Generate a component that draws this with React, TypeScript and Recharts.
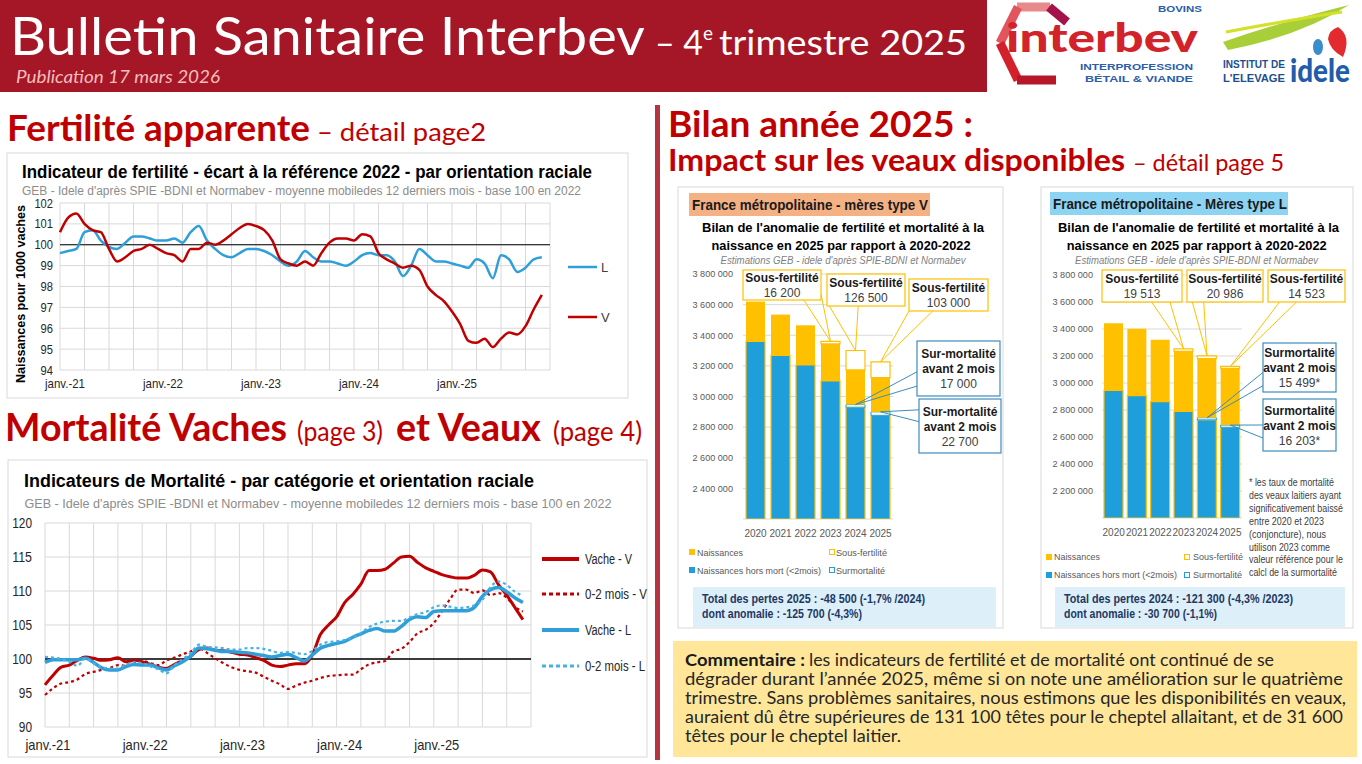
import React from 'react';
import {
  LineChart, Line, BarChart, Bar, XAxis, YAxis, CartesianGrid,
  ReferenceLine, ReferenceArea, ReferenceDot,
} from 'recharts';

// Fertility indicator, monthly from janv. 2021 (base 100 in 2022)
const FERT_L = [
  99.6, 99.7, 99.8, 100.6, 100.7, 100.2, 99.9, 99.8, 100.1, 100.4,
  100.4, 100.3, 100.2, 100.2, 100.3, 100.1, 100.6, 100.9, 100.2, 99.8,
  99.5, 99.4, 99.6, 99.8, 99.8, 99.7, 99.5, 99.2, 99.0, 99.2,
  99.7, 99.4, 99.2, 99.2, 99.1, 99.0, 99.2, 99.5, 99.6, 99.5,
  99.5, 99.2, 98.5, 99.0, 99.8, 99.5, 99.2, 99.2, 99.1, 99.0,
  98.9, 99.3, 99.1, 98.4, 99.5, 99.3, 98.7, 98.9, 99.3, 99.4,
];
const FERT_V = [
  100.6, 101.3, 101.5, 101.0, 100.7, 100.6, 99.8, 99.2, 99.4, 99.7,
  99.8, 100.0, 99.8, 99.6, 99.5, 99.2, 99.8, 99.8, 100.1, 100.0,
  100.2, 100.5, 100.8, 101.0, 100.9, 100.7, 100.2, 99.3, 99.1, 99.0,
  99.2, 99.0, 99.6, 100.1, 100.3, 100.3, 100.2, 100.5, 100.4, 99.6,
  99.3, 99.1, 98.9, 99.0, 98.8, 98.0, 97.6, 97.3, 96.8, 96.2,
  95.4, 95.3, 95.5, 95.1, 95.5, 95.8, 95.7, 96.1, 96.9, 97.6,
];

// Mortality indicators, monthly from janv. 2021
const MORT_VACHE_V = [
  96.2, 97.6, 98.8, 99.1, 99.8, 100.3, 100.1, 99.8, 99.9, 100.2,
  99.6, 99.8, 99.6, 99.2, 98.8, 98.6, 99.2, 99.8, 100.4, 101.4,
  101.6, 101.3, 101.2, 101.0, 100.7, 100.6, 100.2, 99.8, 99.1, 98.9,
  99.1, 99.3, 99.3, 100.6, 103.6, 105.0, 106.2, 108.3, 109.5, 111.0,
  113.0, 113.0, 113.2, 114.1, 115.0, 115.1, 114.2, 113.4, 112.9, 112.4,
  112.1, 111.9, 111.9, 112.3, 113.1, 112.8, 110.9, 109.4, 107.6, 105.8,
];
const MORT_VEAU_V = [
  94.7, 95.7, 96.4, 96.6, 97.0, 97.8, 98.1, 98.4, 98.7, 99.1,
  99.0, 99.3, 99.7, 99.4, 99.1, 99.8, 100.2, 100.7, 101.1, 101.6,
  100.9, 100.1, 99.4, 98.8, 98.4, 98.2, 98.0, 97.4, 96.8, 96.3,
  95.6, 96.1, 96.5, 96.8, 97.2, 97.5, 97.6, 97.7, 97.7, 98.5,
  99.2, 99.5, 99.7, 101.1, 101.5, 102.5, 103.8, 104.3, 105.3, 107.0,
  108.8, 110.2, 110.2, 109.7, 110.1, 109.4, 109.7, 109.0, 107.7, 107.0,
];
const MORT_VACHE_L = [
  99.5, 99.9, 99.9, 99.9, 99.9, 100.1, 99.5, 98.7, 98.4, 98.4,
  98.9, 99.2, 99.1, 99.1, 98.7, 98.4, 99.0, 99.6, 100.4, 101.6,
  101.5, 101.3, 101.1, 101.1, 101.0, 100.9, 100.7, 100.5, 100.3, 100.5,
  100.7, 100.2, 99.7, 100.6, 101.6, 102.0, 102.3, 102.6, 103.2, 103.7,
  104.2, 104.5, 104.1, 104.1, 104.8, 105.8, 106.2, 106.1, 107.0, 107.1,
  107.1, 107.1, 107.1, 107.6, 109.2, 110.2, 110.5, 109.9, 109.0, 108.3,
];
const MORT_VEAU_L = [
  100.3, 100.2, 100.0, 99.6, 99.0, 100.1, 99.4, 98.8, 98.6, 98.6,
  99.2, 99.5, 99.4, 98.9, 98.5, 97.9, 99.1, 100.0, 100.9, 102.1,
  101.8, 101.7, 101.6, 101.4, 101.4, 101.6, 101.6, 101.5, 101.2, 100.9,
  101.0, 100.9, 100.7, 101.2, 102.1, 102.5, 102.6, 102.8, 103.2, 103.8,
  104.7, 105.2, 105.5, 105.6, 105.6, 106.1, 106.6, 106.9, 107.6, 107.9,
  107.7, 107.5, 107.6, 107.9, 108.7, 110.6, 111.4, 110.9, 109.9, 109.3,
];

const MONTHS = FERT_L.map((_, i) => i);
const QUARTER_TICKS = [0, 3, 6, 9, 12, 15, 18, 21, 24, 27, 30, 33, 36, 39, 42, 45, 48, 51, 54, 57, 60];
const YEAR_TICKS = [0, 12, 24, 36, 48];
const YEAR_LABELS = ['janv.-21', 'janv.-22', 'janv.-23', 'janv.-24', 'janv.-25'];
const FERT_Y_TICKS = [94, 95, 96, 97, 98, 99, 100, 101, 102];
const MORT_Y_TICKS = [90, 95, 100, 105, 110, 115, 120];

// Birth balance by year
const YEARS = ['2020', '2021', '2022', '2023', '2024', '2025'];
const V_NAISSANCES = [3620000, 3535000, 3465000, 3344000, 3174000, 3123000];
const V_HORS_MORT = [3360000, 3268000, 3207000, 3102000, 2930000, 2877000];
const V_SURMORT = [0, 0, 0, 0, 17000, 22700];
const V_SOUS_FERT = [0, 0, 0, 16200, 126500, 103000];
const V_Y_TICKS = [2400000, 2600000, 2800000, 3000000, 3200000, 3400000, 3600000, 3800000];

const L_NAISSANCES = [3443000, 3401000, 3320000, 3234000, 3180000, 3108000];
const L_HORS_MORT = [2946000, 2906000, 2862000, 2790000, 2727000, 2672000];
const L_SURMORT = [0, 0, 0, 0, 15499, 16203];
const L_SOUS_FERT = [0, 0, 0, 19513, 20986, 14523];
const L_Y_TICKS = [2200000, 2400000, 2600000, 2800000, 3000000, 3200000, 3400000, 3600000, 3800000];

const FONT = "'Liberation Sans', Arial, sans-serif";
const CAL = "Lato, 'Open Sans', sans-serif";
const RED = '#C00000';
const BLUE = '#2E9FD8';
const BLUE_DOT = '#45B1E6';
const YELLOW = '#FFC000';
const BAR_BLUE = '#1E9FDB';
const CALLOUT_BLUE = '#3C8DBC';
const BANNER = '#A51727';
const HEAD_RED = '#C00000';

const fmtNum = (v: number) => String(Math.round(v)).replace(/\B(?=(\d{3})+(?!\d))/g, ' ');

type TP = {
  x: number; y: number; size: number; len?: number; color?: string; weight?: number;
  italic?: boolean; anchor?: 'start' | 'middle' | 'end'; font?: string; children: React.ReactNode;
};
function T({ x, y, size, len, color = '#000', weight = 400, italic = false, anchor = 'start', font = FONT, children }: TP) {
  return (
    <text x={x} y={y} fontSize={size} fontFamily={font} fontWeight={weight}
      fontStyle={italic ? 'italic' : 'normal'} fill={color} textAnchor={anchor}
      textLength={len} lengthAdjust={len ? 'spacingAndGlyphs' : undefined}>
      {children}
    </text>
  );
}

function monthTick(size: number, width: number, dy: number, dx: number) {
  return (p: any) => {
    const i = YEAR_TICKS.indexOf(p.payload.value);
    if (i < 0) return <g />;
    return (
      <text x={p.x + dx} y={p.y + dy} textAnchor="middle" fontSize={size} fontFamily={FONT}
        fill="#262626" textLength={width} lengthAdjust="spacingAndGlyphs">{YEAR_LABELS[i]}</text>
    );
  };
}

function valueTick(size: number, charW: number, dx: number, color: string, fmt: (v: number) => string = String) {
  return (p: any) => {
    const s = fmt(p.payload.value);
    return (
      <text x={p.x + dx} y={p.y} dy="0.35em" textAnchor="end" fontSize={size} fontFamily={FONT}
        fill={color} textLength={s.length * charW} lengthAdjust="spacingAndGlyphs">{s}</text>
    );
  };
}

function FertilityChart() {
  const rows = MONTHS.map((m, i) => ({ m, L: FERT_L[i], V: FERT_V[i] }));
  return (
    <LineChart width={621} height={245} data={rows} margin={{ top: 50, right: 78, bottom: 6, left: 0 }}>
      <CartesianGrid stroke="#D9D9D9" />
      <XAxis type="number" dataKey="m" domain={[0, 60]} ticks={QUARTER_TICKS} interval={0}
        axisLine={false} tickLine={false} height={22} tick={monthTick(13, 40, 10, 5)} />
      <YAxis type="number" domain={[94, 102]} ticks={FERT_Y_TICKS} interval={0} width={53}
        axisLine={false} tickLine={false} tick={valueTick(13, 6.2, 1, '#262626')} />
      <ReferenceLine y={100} stroke="#000" strokeWidth={1.2} />
      <Line type="monotone" dataKey="L" stroke={BLUE} strokeWidth={2.5} dot={false} isAnimationActive={false} />
      <Line type="monotone" dataKey="V" stroke={RED} strokeWidth={2.5} dot={false} isAnimationActive={false} />
    </LineChart>
  );
}

function MortalityChart() {
  const rows = MONTHS.map((m, i) => ({
    m, vv: MORT_VACHE_V[i], cv: MORT_VEAU_V[i], vl: MORT_VACHE_L[i], cl: MORT_VEAU_L[i],
  }));
  return (
    <LineChart width={639} height={297} data={rows} margin={{ top: 63, right: 116, bottom: 8, left: 0 }}>
      <CartesianGrid stroke="#D9D9D9" />
      <XAxis type="number" dataKey="m" domain={[0, 60]} ticks={QUARTER_TICKS} interval={0}
        axisLine={false} tickLine={false} height={22} tick={monthTick(15, 45, 15, 3)} />
      <YAxis type="number" domain={[90, 120]} ticks={MORT_Y_TICKS} interval={0} width={37}
        axisLine={false} tickLine={false} tick={valueTick(15, 6.6, -5, '#262626')} />
      <ReferenceLine y={100} stroke="#000" strokeWidth={1.5} />
      <Line type="monotone" dataKey="vv" stroke={RED} strokeWidth={3} dot={false} isAnimationActive={false} />
      <Line type="monotone" dataKey="cv" stroke={RED} strokeWidth={2.2} strokeDasharray="3 3" dot={false} isAnimationActive={false} />
      <Line type="monotone" dataKey="vl" stroke={BLUE} strokeWidth={3.5} dot={false} isAnimationActive={false} />
      <Line type="monotone" dataKey="cl" stroke={BLUE_DOT} strokeWidth={2.2} strokeDasharray="3 3" dot={false} isAnimationActive={false} />
    </LineChart>
  );
}

type Row = { year: string; naissances: number; horsMort: number; surmort: number; reste: number; sousFert: number };
type Callout = {
  index: number; kind: 'sf' | 'sm'; x: number; y: number; w: number; h: number;
  title: string[]; suffix?: string; anchors: number[][];
};

// callout boxes (chart coordinates)
const V_CALLOUTS: Callout[] = [
  { index: 3, kind: 'sf', x: 65, y: 83, w: 78, h: 30, title: ['Sous-fertilité'], anchors: [[0.78, 1], [1, 0.8]] },
  { index: 4, kind: 'sf', x: 149, y: 87, w: 78, h: 32, title: ['Sous-fertilité'], anchors: [[0.03, 1], [0.4, 1]] },
  { index: 5, kind: 'sf', x: 231, y: 92, w: 79, h: 32, title: ['Sous-fertilité'], anchors: [[0, 1], [0.3, 1]] },
  { index: 4, kind: 'sm', x: 239, y: 154, w: 83, h: 55, title: ['Sur-mortalité', 'avant 2 mois'], anchors: [[0, 0.56], [0, 0.82]] },
  { index: 5, kind: 'sm', x: 241, y: 212, w: 82, h: 54, title: ['Sur-mortalité', 'avant 2 mois'], anchors: [[0, 0.2], [0, 0.42]] },
];
const L_CALLOUTS: Callout[] = [
  { index: 3, kind: 'sf', x: 61, y: 83, w: 80, h: 32, title: ['Sous-fertilité'], anchors: [[0.62, 1], [0.85, 1]] },
  { index: 4, kind: 'sf', x: 146, y: 83, w: 76, h: 32, title: ['Sous-fertilité'], anchors: [[0.07, 1], [0.22, 1]] },
  { index: 5, kind: 'sf', x: 227, y: 83, w: 77, h: 32, title: ['Sous-fertilité'], anchors: [[0.15, 1], [0.37, 1]] },
  { index: 4, kind: 'sm', x: 222, y: 156, w: 73, h: 49, title: ['Surmortalité', 'avant 2 mois'], suffix: '*', anchors: [[0, 0.6], [0, 0.87]] },
  { index: 5, kind: 'sm', x: 222, y: 212, w: 73, h: 52, title: ['Surmortalité', 'avant 2 mois'], suffix: '*', anchors: [[0, 0.5], [0, 0.75]] },
];

function WaveBand(p: any) {
  const { x, y, width, height } = p;
  const thick = 10;
  const amp = (height - thick) / 2;
  const mid = y + height / 2;
  const period = width * 0.85;
  const crest = x + width * 0.77;
  const x0 = x - 3;
  const x1 = x + width + 3;
  const top: string[] = [];
  const bot: string[] = [];
  for (let i = 0; i <= 48; i++) {
    const xx = x0 + ((x1 - x0) * i) / 48;
    const c = mid + amp * Math.cos((2 * Math.PI * (xx - crest)) / period);
    top.push(`${xx.toFixed(1)},${(c - thick / 2).toFixed(1)}`);
    bot.unshift(`${xx.toFixed(1)},${(c + thick / 2).toFixed(1)}`);
  }
  return <path d={`M${top.join('L')}L${bot.join('L')}Z`} fill="#fff" />;
}

function CalloutShape({ c, cx, cy, value }: { c: Callout; cx: number; cy: number; value: number }) {
  const color = c.kind === 'sf' ? YELLOW : CALLOUT_BLUE;
  const lines = [...c.title, fmtNum(value) + (c.suffix || '')];
  const gap = 15;
  const first = c.y + (c.h - (lines.length - 1) * gap) / 2 + 4.5;
  return (
    <g>
      {c.anchors.map((a, j) => (
        <line key={j} x1={c.x + a[0] * c.w} y1={c.y + a[1] * c.h} x2={cx} y2={cy} stroke={color} strokeWidth={1} />
      ))}
      <rect x={c.x} y={c.y} width={c.w} height={c.h} fill="#fff" stroke={color} strokeWidth={1.2} />
      {lines.map((s, j) => (
        <text key={j} x={c.x + c.w / 2} y={first + j * gap} textAnchor="middle" fontFamily={FONT}
          fontSize={12} fontWeight={j < lines.length - 1 ? 700 : 400}
          fill={j < lines.length - 1 ? '#1a1a1a' : '#404040'}>{s}</text>
      ))}
    </g>
  );
}

type BCProps = {
  naissances: number[]; horsMort: number[]; surmort: number[]; sousFert: number[];
  yMin: number; yTicks: number[]; band: [number, number]; callouts: Callout[];
  width: number; margin: { top: number; right: number; bottom: number; left: number };
  yWidth: number; tickDx: number;
};
function BirthChart(p: BCProps) {
  const rows: Row[] = YEARS.map((year, i) => ({
    year,
    naissances: p.naissances[i],
    horsMort: p.horsMort[i],
    surmort: p.surmort[i],
    reste: p.naissances[i] - p.horsMort[i] - p.surmort[i],
    sousFert: p.sousFert[i],
  }));
  return (
    <BarChart width={p.width} height={441} data={rows} margin={p.margin} barSize={19}>
      <CartesianGrid vertical={false} stroke="#D9D9D9" />
      <XAxis dataKey="year" axisLine={false} tickLine={false} height={20} interval={0}
        tick={(t: any) => (
          <text x={t.x} y={t.y + 9.5} textAnchor="middle" fontSize={10} fontFamily={FONT} fill="#595959">{t.payload.value}</text>
        )} />
      <YAxis type="number" domain={[p.yMin, 3800000]} ticks={p.yTicks} interval={0} allowDataOverflow
        width={p.yWidth} axisLine={false} tickLine={false} tick={valueTick(9.5, 4.5, p.tickDx, '#595959', fmtNum)} />
      <Bar dataKey="horsMort" stackId="s" fill={BAR_BLUE} stroke={YELLOW} strokeWidth={1.2} isAnimationActive={false} />
      <Bar dataKey="surmort" stackId="s" fill="#fff" stroke={BAR_BLUE} strokeWidth={1} isAnimationActive={false} />
      <Bar dataKey="reste" stackId="s" fill={YELLOW} isAnimationActive={false} />
      <Bar dataKey="sousFert" stackId="s" fill="#fff" stroke={YELLOW} strokeWidth={1.2} isAnimationActive={false} />
      <ReferenceArea y1={p.band[0]} y2={p.band[1]} shape={WaveBand} ifOverflow="visible" />
      {p.callouts.map((c, k) => {
        const row = rows[c.index];
        const target = c.kind === 'sf' ? row.naissances + row.sousFert : row.horsMort + row.surmort;
        const value = c.kind === 'sf' ? row.sousFert : row.surmort;
        return (
          <ReferenceDot key={k} x={row.year} y={target} r={2} ifOverflow="visible"
            shape={(d: any) => <CalloutShape c={c} cx={d.cx} cy={d.cy} value={value} />} />
        );
      })}
    </BarChart>
  );
}

const COMMENT = [
  'dégrader durant l’année 2025, même si on note une amélioration sur le quatrième',
  'trimestre. Sans problèmes sanitaires, nous estimons que les disponibilités en veaux,',
  'auraient dû être supérieures de 131 100 têtes pour le cheptel allaitant, et de 31 600',
  'têtes pour le cheptel laitier.',
];
const COMMENT_LEN = [658, 661, 658, 216];

const FOOTNOTE = [
  '* les taux de mortalité', 'des veaux laitiers ayant', 'significativement baissé', 'entre 2020 et 2023',
  '(conjoncture), nous', 'utilison 2023 comme', 'valeur référence pour le', 'calcl de la surmortalité',
];
const FOOTNOTE_LEN = [85, 92, 94, 75, 77, 81, 94, 88];

export default function App() {
  return (
    <div style={{ position: 'absolute', left: 0, top: 0, width: 1362, height: 764, background: '#fff', overflow: 'hidden' }}>
      <svg width={1362} height={764} style={{ position: 'absolute', left: 0, top: 0 }}>
        <rect x={0} y={0} width={987} height={92} fill={BANNER} />
        <rect x={655} y={105} width={5} height={655} fill="#B4343F" />
        <rect x={673} y={641} width={684} height={116} fill="#FFE699" />
        <rect x={693} y={587} width={303} height={40} fill="#DDEFF9" />
        <rect x={1055} y={587} width={290} height={40} fill="#DDEFF9" />
        <rect x={689} y={193} width={241} height={23} fill="#F4B183" />
        <rect x={1050} y={192} width={238} height={23} fill="#8DD3F2" />
      </svg>

      <div style={{ position: 'absolute', left: 7, top: 153 }}><FertilityChart /></div>
      <div style={{ position: 'absolute', left: 8, top: 460 }}><MortalityChart /></div>
      <div style={{ position: 'absolute', left: 678, top: 187 }}>
        <BirthChart naissances={V_NAISSANCES} horsMort={V_HORS_MORT} surmort={V_SURMORT} sousFert={V_SOUS_FERT}
          yMin={2200000} yTicks={V_Y_TICKS} band={[2260000, 2410000]} callouts={V_CALLOUTS}
          width={325} margin={{ top: 87, right: 110, bottom: 89, left: 5 }} yWidth={60} tickDx={-2} />
      </div>
      <div style={{ position: 'absolute', left: 1041, top: 187 }}>
        <BirthChart naissances={L_NAISSANCES} horsMort={L_HORS_MORT} surmort={L_SURMORT} sousFert={L_SOUS_FERT}
          yMin={2000000} yTicks={L_Y_TICKS} band={[2055000, 2235000]} callouts={L_CALLOUTS}
          width={312} margin={{ top: 88, right: 111, bottom: 90, left: 3 }} yWidth={58} tickDx={-1} />
      </div>

      <svg width={1362} height={764} style={{ position: 'absolute', left: 0, top: 0, pointerEvents: 'none' }}>
        {/* header */}
        <T x={10} y={55} size={52} len={635} color="#fff" font={CAL}>Bulletin Sanitaire Interbev</T>
        <T x={655} y={55} size={34} len={48} color="#fff" font={CAL}>– 4</T>
        <T x={703} y={40} size={20} len={10} color="#fff" font={CAL}>e</T>
        <T x={719} y={55} size={34} len={248} color="#fff" font={CAL}>trimestre 2025</T>
        <T x={16} y={83} size={17} len={204} color="#F6BDBD" italic font={CAL}>Publication 17 mars 2026</T>

        {/* interbev logo */}
        <line x1={1050} y1={7} x2={1017} y2={7} stroke="#E8898B" strokeWidth={9} />
        <line x1={1018} y1={7} x2={1000} y2={43} stroke="#E2555C" strokeWidth={9} />
        <line x1={1000} y1={43} x2={1018} y2={80} stroke="#D3202B" strokeWidth={9} />
        <line x1={1017} y1={80} x2={1056} y2={80} stroke="#B8172A" strokeWidth={9} />
        <line x1={1049} y1={7} x2={1067} y2={22} stroke="#A3124B" strokeWidth={9} />
        <T x={1006} y={52} size={40} len={192} color="#D2232A" weight={900} font={CAL}>interbev</T>
        <T x={1158} y={12} size={8.5} len={44} color="#2B5DA8" weight={700}>BOVINS</T>
        <T x={1080} y={70} size={9.5} len={113} color="#2B5DA8" weight={700}>INTERPROFESSION</T>
        <T x={1085} y={82} size={9.5} len={108} color="#2B5DA8" weight={700}>BÉTAIL &amp; VIANDE</T>

        {/* idele logo */}
        <path d="M1223,42 Q1280,22 1349,5 Q1300,36 1228,50 Z" fill="#A8CF38" />
        <path d="M1226,32 Q1290,20 1342,12" stroke="#D4E02C" strokeWidth={3} fill="none" />
        <path d="M1338,27 Q1352,36 1343,57 Q1330,50 1328,39 Q1329,30 1338,27 Z" fill="#E32A2F" />
        <ellipse cx={1318} cy={47} rx={5} ry={8} fill="#3A8DCB" />
        <T x={1223} y={68} size={10.5} len={62} color="#1E4E8C" weight={700}>INSTITUT DE</T>
        <T x={1223} y={82} size={10.5} len={62} color="#1E4E8C" weight={700}>L'ELEVAGE</T>
        <T x={1290} y={82} size={32} len={60} color="#1F5CA9" weight={900} font={CAL}>idele</T>

        {/* section headings */}
        <T x={7} y={141} size={37} len={303} color={HEAD_RED} weight={700} font={CAL}>Fertilité apparente</T>
        <T x={317} y={141} size={25} len={169} color={HEAD_RED} font={CAL}>– détail page2</T>
        <T x={5} y={441} size={38} len={282} color={HEAD_RED} weight={700} font={CAL}>Mortalité Vaches</T>
        <T x={297} y={441} size={26} len={86} color={HEAD_RED} font={CAL}>(page 3)</T>
        <T x={396} y={441} size={38} len={145} color={HEAD_RED} weight={700} font={CAL}>et Veaux</T>
        <T x={553} y={441} size={26} len={89} color={HEAD_RED} font={CAL}>(page 4)</T>
        <T x={668} y={137} size={37} len={305} color={HEAD_RED} weight={700} font={CAL}>Bilan année 2025 :</T>
        <T x={668} y={171} size={30} len={457} color={HEAD_RED} weight={700} font={CAL}>Impact sur les veaux disponibles</T>
        <T x={1133} y={171} size={24} len={151} color={HEAD_RED} font={CAL}>– détail page 5</T>

        {/* fertility frame */}
        <rect x={7} y={153} width={621} height={245} fill="none" stroke="#D9D9D9" />
        <T x={22} y={178} size={18} len={570} weight={700}>Indicateur de fertilité - écart à la référence 2022 - par orientation raciale</T>
        <T x={22} y={195} size={12.5} len={559} color="#8C8C8C">GEB - Idele d'après SPIE -BDNI et Normabev  - moyenne mobiledes 12 derniers mois  - base 100 en 2022</T>
        <g transform="translate(25,294) rotate(-90)">
          <T x={0} y={0} size={13} len={178} weight={700} anchor="middle">Naissances pour 1000 vaches</T>
        </g>
        <line x1={568} y1={267} x2={597} y2={267} stroke={BLUE} strokeWidth={2.5} />
        <T x={601} y={271.5} size={13} color="#404040">L</T>
        <line x1={568} y1={317} x2={597} y2={317} stroke={RED} strokeWidth={2.5} />
        <T x={601} y={321.5} size={13} color="#404040">V</T>

        {/* mortality frame */}
        <rect x={8} y={460} width={639} height={297} fill="none" stroke="#D9D9D9" />
        <T x={24} y={487} size={18} len={510} weight={700}>Indicateurs de Mortalité - par catégorie et orientation raciale</T>
        <T x={24.5} y={508} size={13.5} len={587} color="#8C8C8C">GEB - Idele d'après SPIE -BDNI et Normabev  - moyenne mobiledes 12 derniers mois  - base 100 en 2022</T>
        <line x1={542} y1={559} x2={579} y2={559} stroke={RED} strokeWidth={4} />
        <T x={585} y={564} size={14} len={47} color="#262626">Vache - V</T>
        <line x1={542} y1={594} x2={579} y2={594} stroke={RED} strokeWidth={3} strokeDasharray="4 3" />
        <T x={585} y={599} size={14} len={62} color="#262626">0-2 mois - V</T>
        <line x1={542} y1={630} x2={579} y2={630} stroke={BLUE} strokeWidth={4} />
        <T x={585} y={635} size={14} len={46} color="#262626">Vache - L</T>
        <line x1={542} y1={666} x2={579} y2={666} stroke={BLUE_DOT} strokeWidth={3} strokeDasharray="4 3" />
        <T x={585} y={671} size={14} len={60} color="#262626">0-2 mois - L</T>

        {/* V birth chart frame */}
        <rect x={678} y={187} width={325} height={441} fill="none" stroke="#D9D9D9" />
        <T x={692} y={209.5} size={14.5} len={236} weight={700} color="#1a1a1a">France métropolitaine - mères type V</T>
        <T x={843} y={232} size={13.5} len={282} weight={700} anchor="middle">Bilan de l'anomalie de fertilité et mortalité à la</T>
        <T x={841} y={250} size={13.5} len={259} weight={700} anchor="middle">naissance en 2025 par rapport à 2020-2022</T>
        <T x={843} y={264} size={10.5} len={245} italic color="#7F7F7F" anchor="middle">Estimations GEB - idele d'après SPIE-BDNI et Normabev</T>
        <rect x={689} y={549} width={6} height={6} fill={YELLOW} />
        <T x={697} y={555.5} size={9.5} len={46} color="#595959">Naissances</T>
        <rect x={829.5} y={549.5} width={5} height={5} fill="#fff" stroke={YELLOW} />
        <T x={836} y={555.5} size={9.5} len={51} color="#595959">Sous-fertilité</T>
        <rect x={689} y={567} width={6} height={6} fill={BAR_BLUE} />
        <T x={697} y={573.5} size={9.5} len={124} color="#595959">Naissances hors mort (&lt;2mois)</T>
        <rect x={829.5} y={567.5} width={5} height={5} fill="#fff" stroke={BAR_BLUE} />
        <T x={836} y={573.5} size={9.5} len={49} color="#595959">Surmortalité</T>
        <T x={702} y={603} size={12.5} len={223} weight={700} color="#1F3864">Total des pertes 2025 : -48 500 (-1,7% /2024)</T>
        <T x={702} y={617.5} size={12.5} len={160} weight={700} color="#1F3864">dont anomalie : -125 700 (-4,3%)</T>

        {/* L birth chart frame */}
        <rect x={1041} y={187} width={312} height={441} fill="none" stroke="#D9D9D9" />
        <T x={1053} y={208.5} size={14.5} len={234} weight={700} color="#1a1a1a">France métropolitaine - Mères type L</T>
        <T x={1198.5} y={232} size={13.5} len={281} weight={700} anchor="middle">Bilan de l'anomalie de fertilité et mortalité à la</T>
        <T x={1196.7} y={250} size={13.5} len={260} weight={700} anchor="middle">naissance en 2025 par rapport à 2020-2022</T>
        <T x={1196.5} y={264} size={10.5} len={243} italic color="#7F7F7F" anchor="middle">Estimations GEB - idele d'après SPIE-BDNI et Normabev</T>
        <rect x={1046} y={554} width={6} height={6} fill={YELLOW} />
        <T x={1054} y={560} size={9.5} len={46} color="#595959">Naissances</T>
        <rect x={1184.5} y={554.5} width={5} height={5} fill="#fff" stroke={YELLOW} />
        <T x={1193} y={560} size={9.5} len={50} color="#595959">Sous-fertilité</T>
        <rect x={1046} y={572} width={6} height={6} fill={BAR_BLUE} />
        <T x={1054} y={578} size={9.5} len={123} color="#595959">Naissances hors mort (&lt;2mois)</T>
        <rect x={1184.5} y={572.5} width={5} height={5} fill="#fff" stroke={BAR_BLUE} />
        <T x={1193} y={578} size={9.5} len={49} color="#595959">Surmortalité</T>
        {FOOTNOTE.map((s, i) => (
          <T key={i} x={1249} y={486 + i * 12.9} size={10} len={FOOTNOTE_LEN[i]} color="#404040">{s}</T>
        ))}
        <T x={1064} y={603} size={12.5} len={229} weight={700} color="#1F3864">Total des pertes 2024 : -121 300 (-4,3% /2023)</T>
        <T x={1064} y={617.5} size={12.5} len={153} weight={700} color="#1F3864">dont anomalie : -30 700 (-1,1%)</T>

        {/* comment */}
        <T x={685} y={666} size={17} len={120} weight={700} color="#1a1a1a" font={CAL}>Commentaire :</T>
        <T x={809} y={666} size={17} len={465} color="#262626" font={CAL}>les indicateurs de fertilité et de mortalité ont continué de se</T>
        {COMMENT.map((s, i) => (
          <T key={i} x={685} y={685 + i * 19} size={17} len={COMMENT_LEN[i]} color="#262626" font={CAL}>{s}</T>
        ))}
      </svg>
    </div>
  );
}
